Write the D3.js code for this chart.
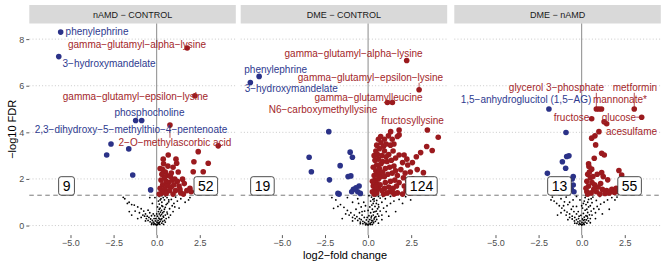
<!DOCTYPE html>
<html>
<head>
<meta charset="utf-8">
<script src="https://cdn.jsdelivr.net/npm/d3@7"></script>
<style>
body { margin: 0; background: #fff; }
text { font-family: "Liberation Sans", Arial, sans-serif; }
</style>
</head>
<body>
<svg width="667" height="268"></svg>
<script>
const width = 667, height = 268;
const svg = d3.select("svg");

// facet titles
const facets = ["nAMD − CONTROL", "DME − CONTROL", "DME − nAMD"];
const xTicks = [-5, -2.5, 0, 2.5];
const yTicks = [0, 2, 4, 6, 8];
const fdrCut = -Math.log10(0.05);

// [log2FC, -log10 FDR]
const down1 = [[-5.57,8.3],[-5.68,7.25],[-1.22,4.51],[-0.87,4.51],[-2.65,3.5],[-2.9,3.03],[-1.62,3.29],[-1.39,2.17],[-0.35,1.53]];
const up1 = [[1.77,7.62],[2.22,5.57],[0.77,4.31],[0.38,2.85],[0.67,3.03],[1.12,2.85],[1.16,2.67],[2.41,3.17],[3.57,3.42],[2.16,2.74],
  [2.99,2.67],[2.12,2.31],[2.7,2.31],[1.5,1.99],[1.93,1.6],[2.0,1.45],[1.75,1.5],[0.2,2.45],[0.35,2.4],[0.5,2.3],[0.3,2.2],[0.6,2.15],
  [0.45,2.05],[0.8,2.1],[0.25,1.95],[0.55,1.9],[0.7,1.85],[0.9,1.95],[1.05,2.0],[1.2,1.9],[0.35,1.75],[0.6,1.7],[0.85,1.65],[1.0,1.75],
  [1.3,1.7],[0.2,1.6],[0.45,1.55],[0.75,1.5],[1.1,1.5],[0.3,1.4],[0.55,1.38],[0.95,1.35],[1.4,1.4],[1.25,2.3],[0.95,2.5],[1.35,1.55],
  [0.15,1.35],[0.65,2.55],[1.6,1.8],[0.4,2.65],[0.85,2.25],[1.55,1.35]];
const ns1 = [[0.0,0.02],[0.05,0.05],[-0.05,0.04],[0.1,0.08],[-0.1,0.07],[0.15,0.12],[-0.15,0.1],[0.02,0.15],[-0.2,0.15],[0.2,0.18],
  [0.08,0.22],[-0.08,0.2],[0.25,0.25],[-0.25,0.22],[-0.35,0.28],[0.3,0.3],[0.12,0.32],[-0.15,0.3],[-0.45,0.35],[0.4,0.36],[0.05,0.4],
  [0.22,0.42],[-0.3,0.42],[-0.55,0.4],[0.5,0.45],[0.15,0.5],[-0.2,0.5],[0.35,0.55],[-0.65,0.5],[-0.4,0.55],[0.6,0.58],[0.1,0.6],
  [0.28,0.65],[-0.75,0.62],[-0.5,0.66],[0.45,0.7],[0.2,0.75],[0.75,0.72],[-0.9,0.72],[0.05,0.8],[0.35,0.82],[0.9,0.85],[-1.1,0.8],
  [0.55,0.9],[0.15,0.92],[-1.3,0.88],[1.0,0.95],[0.3,1.0],[0.7,1.02],[-1.45,0.9],[0.1,1.05],[1.2,1.05],[0.45,1.1],[-1.6,1.0],
  [0.25,1.15],[0.85,1.12],[-1.7,0.95],[1.4,1.15],[0.6,1.2],[0.15,1.25],[1.1,1.22],[-1.94,1.21],[-1.85,1.15],[-1.59,0.6],[-1.45,0.45],
  [-0.9,0.35],[1.65,1.0],[1.85,1.1],[1.93,1.2],[0.95,0.6],[1.3,0.75],[-1.1,0.3],[0.7,0.35],[-0.65,0.2],[0.5,0.15],[0.4,0.05],
  [-0.3,0.05],[0.3,1.28],[0.5,1.27],[-0.4,1.2],[-0.25,0.95],[-0.1,1.2],
  [0.18,0.05],[-0.18,0.04],[0.3,0.1],[-0.28,0.1],[0.08,0.12],[0.35,0.18],[-0.38,0.16],[0.45,0.22],[-0.5,0.22],[0.18,0.28],
  [0.55,0.3],[-0.6,0.3],[0.38,0.4],[0.28,0.48],[0.62,0.5],[0.42,0.6],[0.22,0.58],[0.5,0.78],[0.3,0.85],[0.62,0.95],[0.2,1.1],
  [0.38,1.2],[0.7,1.1],[-0.8,0.45],[-1.0,0.55],[-1.25,0.62],[-0.7,0.4],[0.8,0.45],[1.05,0.8],[0.15,0.7],[-0.05,0.3],[0.0,0.5],
  [-0.12,0.42]];

const down2 = [[-6.32,6.4],[-6.83,6.14],[-2.28,4.03],[-3.42,2.93],[-3.29,2.31],[-2.24,1.96],[-1.62,2.57],[-1.04,3.15],[-0.91,2.93],
  [-1.16,2.1],[-1.0,2.13],[-1.68,1.35],[-0.85,1.56],[-0.52,1.7],[-0.6,1.45],[-0.7,1.62],[-1.75,1.38],[-0.45,1.38],[-0.95,1.45]];
const up2 = [[2.24,7.08],[2.96,5.83],[1.12,5.28],[1.41,5.28],[3.44,4.1],[0.73,3.82],
  [0.35,1.35],[0.5,1.4],[0.4,1.55],[0.6,1.6],[0.3,1.7],[0.5,1.8],[0.7,1.75],[0.4,1.95],[0.6,2.0],[0.35,2.15],[0.55,2.2],[0.75,2.1],
  [0.45,2.35],[0.65,2.45],[0.3,2.5],[0.5,2.6],[0.75,2.65],[0.4,2.8],[0.6,2.85],[0.35,3.0],[0.55,3.05],[0.8,3.0],[0.45,3.2],[0.65,3.3],
  [0.5,3.45],[0.75,3.55],[0.9,3.4],
  [0.9,1.35],[1.1,1.4],[1.3,1.45],[1.5,1.35],[1.7,1.4],[0.95,1.6],[1.2,1.65],[1.45,1.6],[1.65,1.7],[1.0,1.85],[1.3,1.9],[1.55,1.95],
  [1.8,1.85],[0.95,2.1],[1.15,2.2],[1.4,2.25],[1.7,2.15],[1.0,2.45],[1.25,2.5],[1.5,2.55],[1.9,2.4],[1.1,2.75],[1.35,2.8],[1.6,2.9],
  [1.2,3.05],[0.95,3.2],[1.45,3.2],[1.05,3.5],[1.3,3.45],[1.8,3.03],[1.18,3.85],[1.8,3.89],[1.31,4.03],[1.7,3.82],[1.8,4.1],
  [2.0,1.35],[2.2,1.5],[2.4,1.4],[2.1,1.7],[2.5,1.65],[2.3,1.9],[2.05,2.05],[2.6,2.0],[2.57,2.7],[2.3,2.6],[2.09,3.03],[3.05,3.13],
  [3.4,3.39],[3.72,3.22],[4.07,3.79],[3.21,2.27],[2.85,2.4],[2.75,1.55],[2.25,2.85],[2.0,2.7],[2.8,2.95],[3.35,2.0],
  [0.25,1.45],[0.45,1.65],[0.25,1.9],[0.65,2.3],[0.85,2.3],[0.8,1.5],[1.05,2.95],[1.4,1.45],[1.6,2.35],[0.85,2.75],[1.5,3.5],
  [2.45,2.3],[0.6,3.7],[0.95,3.7],[1.4,3.7],[2.15,2.25]];
const ns2 = [[0.0,0.02],[0.05,0.06],[-0.06,0.05],[0.12,0.1],[-0.12,0.09],[0.2,0.14],[-0.2,0.13],[0.03,0.17],[-0.3,0.18],[0.28,0.2],
  [0.1,0.25],[-0.1,0.24],[-0.4,0.25],[0.35,0.28],[-0.5,0.3],[0.18,0.33],[-0.22,0.35],[0.45,0.38],[-0.65,0.38],[0.05,0.42],[0.3,0.45],
  [-0.35,0.45],[-0.8,0.45],[0.55,0.5],[0.15,0.55],[-0.5,0.55],[-1.0,0.55],[0.4,0.6],[0.7,0.62],[-0.2,0.62],[-1.2,0.65],[0.25,0.7],
  [0.55,0.72],[-0.7,0.7],[0.9,0.75],[0.1,0.8],[0.4,0.82],[-1.4,0.78],[-0.4,0.8],[1.1,0.85],[0.6,0.9],[0.3,0.95],[-1.6,0.9],[1.3,0.95],
  [0.8,1.0],[0.15,1.05],[-0.9,1.0],[0.5,1.08],[1.5,1.05],[-1.87,1.1],[-2.0,0.74],[-1.75,0.82],[0.35,1.15],[0.7,1.18],[1.0,1.15],
  [1.8,1.12],[2.18,1.24],[2.47,1.1],[0.2,1.22],[0.45,1.27],[-1.2,1.2],[-0.6,1.15],[1.3,1.25],[2.0,0.95],[1.6,0.6],[-1.5,0.3],[1.2,0.4],
  [-0.9,0.2],[0.8,0.25],[0.6,0.1],[-0.45,0.08],[-2.1,1.2],[-0.25,1.0],[0.05,1.28],[0.25,0.05],
  [0.15,0.04],[-0.15,0.03],[0.32,0.12],[-0.3,0.08],[0.42,0.18],[-0.45,0.15],[0.22,0.22],[-0.6,0.22],[0.5,0.26],[-0.75,0.3],
  [0.38,0.35],[-0.9,0.35],[0.62,0.4],[0.2,0.4],[-0.05,0.35],[0.48,0.62],[0.32,0.58],[-1.1,0.45],[-0.35,0.6],[0.62,0.8],[0.22,0.88],
  [0.48,0.95],[0.35,1.05],[0.6,1.25],[0.28,1.12],[0.85,1.25],[-0.55,0.95],[1.05,0.6],[0.8,0.45],[-1.3,0.5],[0.0,0.65],[-0.15,0.85]];

const down3 = [[-1.9,5.0],[-0.91,3.99],[-0.74,2.99],[-0.87,2.96],[-1.12,2.74],[-0.93,2.46],[-1.99,2.24],[-0.49,2.1],[-0.55,2.0],
  [-0.49,1.74],[-0.6,1.55],[-0.45,1.45],[-0.7,1.6]];
const up3 = [[0.85,5.0],[1.15,5.0],[3.05,5.0],[0.58,4.58],[3.48,4.65],[1.45,4.37],[1.0,5.0],[1.3,4.45],[1.0,4.03],[0.77,3.85],
  [0.58,3.75],[0.81,3.46],[0.73,2.89],[1.16,3.1],[1.31,3.03],[0.42,2.53],[0.58,2.42],[1.16,2.27],[2.16,2.36],[2.32,2.17],[1.51,1.96],
  [0.35,2.2],[0.5,2.05],[0.3,1.9],[0.6,1.85],[0.4,1.7],[0.75,1.75],[0.95,1.65],[1.2,1.55],[1.45,1.5],[1.75,1.55],[2.0,1.6],[0.3,1.45],
  [0.55,1.4],[0.85,1.45],[1.05,1.35],[1.35,1.38],[1.6,1.4],[1.9,1.42],[2.3,1.5],[0.45,2.3],[0.9,2.2],[0.25,1.6],[0.7,1.55],
  [2.15,1.45],[1.1,1.8],[0.4,2.65],[1.25,2.1],[0.65,2.1],[0.35,1.35]];
const ns3 = [[0.0,0.02],[0.06,0.05],[-0.05,0.06],[0.12,0.1],[-0.12,0.1],[0.02,0.14],[0.2,0.15],[-0.22,0.16],[-0.1,0.2],[0.1,0.22],
  [0.28,0.24],[-0.3,0.25],[0.05,0.28],[-0.18,0.3],[0.35,0.32],[-0.4,0.35],[0.15,0.36],[-0.55,0.4],[0.25,0.42],[-0.05,0.44],[0.45,0.46],
  [-0.3,0.5],[-0.7,0.5],[0.1,0.52],[0.35,0.56],[-0.85,0.58],[-0.45,0.6],[0.55,0.62],[0.2,0.66],[-1.0,0.65],[-0.6,0.7],[0.7,0.72],
  [0.05,0.75],[-1.15,0.75],[0.4,0.8],[-0.3,0.82],[0.9,0.82],[-1.3,0.85],[-0.8,0.9],[0.25,0.9],[1.1,0.92],[0.6,0.98],[-1.45,0.95],
  [-1.0,1.02],[0.15,1.05],[1.3,1.0],[0.85,1.08],[-1.6,1.05],[0.4,1.12],[-0.5,1.1],[1.5,1.1],[-1.78,1.1],[-1.2,1.15],[0.2,1.2],
  [1.93,1.1],[1.75,1.2],[0.65,1.22],[-0.3,1.25],[1.05,1.25],[-1.7,1.22],[1.6,0.7],[-1.4,0.45],[1.2,0.5],[0.8,0.3],[-0.8,0.25],
  [0.5,0.12],[-0.4,0.1],[2.05,1.22],[-0.9,1.22],
  [0.15,0.04],[-0.16,0.04],[0.3,0.1],[-0.28,0.09],[0.4,0.2],[-0.42,0.2],[0.18,0.25],[-0.55,0.28],[0.5,0.3],[-0.7,0.35],
  [0.32,0.4],[-0.15,0.4],[0.6,0.45],[-0.9,0.45],[0.3,0.7],[0.5,0.85],[-0.5,0.82],[0.1,0.95],[0.35,1.0],[-0.7,1.0],[0.55,1.15],
  [-1.05,0.85],[0.8,0.55],[-1.2,0.55],[1.0,0.7],[-0.2,0.6],[0.0,0.85],[0.25,1.28],[-0.1,1.1]];

// labels: name, point (x,y), label centre (lx,ly), direction, leader segment
const labels1 = [
  {name: "phenylephrine", x: -5.57, y: 8.3, lx: -3.46, ly: 8.32, dir: "down", seg: false},
  {name: "3−hydroxymandelate", x: -5.68, y: 7.25, lx: -2.76, ly: 6.95, dir: "down", seg: false},
  {name: "gamma−glutamyl−alpha−lysine", x: 1.77, y: 7.62, lx: -1.14, ly: 7.76, dir: "up", seg: false},
  {name: "gamma−glutamyl−epsilon−lysine", x: 2.22, y: 5.57, lx: -1.23, ly: 5.53, dir: "up", seg: false},
  {name: "phosphocholine", x: -1.22, y: 4.51, lx: -0.42, ly: 4.84, dir: "down", seg: false},
  {name: "2,3−dihydroxy−5−methylthio−4−pentenoate", x: -2.65, y: 3.5, lx: -1.49, ly: 4.11, dir: "down", seg: false},
  {name: "2−O−methylascorbic acid", x: 0.77, y: 4.31, lx: 1.06, ly: 3.55, dir: "up", seg: true}
];
const labels2 = [
  {name: "gamma−glutamyl−alpha−lysine", x: 2.24, y: 7.08, lx: -0.84, ly: 7.38, dir: "up", seg: false},
  {name: "phenylephrine", x: -6.32, y: 6.4, lx: -5.36, ly: 6.69, dir: "down", seg: false},
  {name: "3−hydroxymandelate", x: -6.83, y: 6.14, lx: -4.46, ly: 5.87, dir: "down", seg: false},
  {name: "gamma−glutamyl−epsilon−lysine", x: 2.96, y: 5.83, lx: 0.14, ly: 6.34, dir: "up", seg: true},
  {name: "gamma−glutamylleucine", x: 1.12, y: 5.28, lx: 0.03, ly: 5.5, dir: "up", seg: false},
  {name: "N6−carboxymethyllysine", x: 0.73, y: 3.82, lx: -2.61, ly: 4.97, dir: "up", seg: false},
  {name: "fructosyllysine", x: 3.44, y: 4.1, lx: 2.58, ly: 4.49, dir: "up", seg: false}
];
const labels3 = [
  {name: "glycerol 3−phosphate", x: 0.85, y: 5.0, lx: -1.46, ly: 5.91, dir: "up", seg: true},
  {name: "metformin", x: 3.05, y: 5.0, lx: 3.09, ly: 5.91, dir: "up", seg: true},
  {name: "1,5−anhydroglucitol (1,5−AG)", x: -1.9, y: 5.0, lx: -3.23, ly: 5.4, dir: "down", seg: false},
  {name: "mannonate*", x: 1.15, y: 5.0, lx: 2.22, ly: 5.4, dir: "up", seg: false},
  {name: "fructose", x: 0.58, y: 4.58, lx: -0.59, ly: 4.62, dir: "up", seg: false},
  {name: "glucose", x: 3.48, y: 4.65, lx: 2.16, ly: 4.62, dir: "up", seg: true},
  {name: "acesulfame", x: 1.45, y: 4.37, lx: 2.89, ly: 4.02, dir: "up", seg: false}
];

// number of down / up metabolites and where the boxes sit
const downCounts = [9, 19, 13];
const upCounts = [52, 124, 55];
const downCountX = [-5.23, -6.13, -1.29];
const upCountX = [2.85, 3.1, 2.78];
const countY = 1.7;

const colors = {down: "#2b3288", up: "#9b1a1e"};
const labelColors = {down: "#2e3a8f", up: "#a3262a"};

const panelData = [
  {down: down1, up: up1, ns: ns1, labels: labels1},
  {down: down2, up: up2, ns: ns2, labels: labels2},
  {down: down3, up: up3, ns: ns3, labels: labels3}
];

const panelW = 206.5, panelTop = 23.5, panelBottom = 235.1;
const panelX = [29.3, 240.7, 454.3];

const xScale = d3.scaleLinear().domain([-7.39, 4.59]).range([0, panelW]);
const yScale = d3.scaleLinear().domain([-0.41, 8.67]).range([panelBottom, panelTop]);

// y axis (only left panel)
const yAxis = svg.append("g")
    .attr("transform", `translate(${panelX[0]},0)`)
    .call(d3.axisLeft(yScale).tickValues(yTicks).tickSize(3).tickPadding(2).tickFormat(d3.format("d")));
yAxis.select(".domain").remove();
yAxis.selectAll(".tick line").attr("stroke", "#333").attr("stroke-width", 0.8);
yAxis.selectAll(".tick text").attr("fill", "#4d4d4d").style("font-size", "9px")
    .style("font-family", "'Liberation Sans', Arial, sans-serif");

svg.append("text")
    .attr("transform", `translate(12,${(panelTop + panelBottom) / 2}) rotate(-90)`)
    .attr("text-anchor", "middle")
    .attr("dominant-baseline", "central")
    .style("font-size", "11px")
    .text("−log10 FDR");

svg.append("text")
    .attr("x", (panelX[0] + panelX[2] + panelW) / 2)
    .attr("y", 259)
    .attr("text-anchor", "middle")
    .style("font-size", "11px")
    .text("log2−fold change");

panelData.forEach((pd, i) => {
    const g = svg.append("g").attr("transform", `translate(${panelX[i]},0)`);

    // strip
    g.append("rect")
        .attr("x", 0).attr("y", 5)
        .attr("width", panelW).attr("height", panelTop - 5)
        .attr("fill", "#d9d9d9");
    g.append("text")
        .attr("x", panelW / 2).attr("y", 14.5)
        .attr("text-anchor", "middle")
        .attr("dominant-baseline", "central")
        .attr("fill", "#1a1a1a")
        .style("font-size", "9px")
        .text(facets[i]);

    // dotted grid
    g.selectAll(".grid")
        .data(yTicks)
        .enter().append("line")
        .attr("x1", 0).attr("x2", panelW)
        .attr("y1", d => yScale(d)).attr("y2", d => yScale(d))
        .attr("stroke", "#c4c4c4")
        .attr("stroke-width", 0.9)
        .attr("stroke-dasharray", "1,2.2");

    // x axis
    const xAxis = g.append("g")
        .attr("transform", `translate(0,${panelBottom})`)
        .call(d3.axisBottom(xScale).tickValues(xTicks).tickSize(3).tickPadding(2)
            .tickFormat(d => d3.format(".1f")(d).replace("-", "−")));
    xAxis.select(".domain").remove();
    xAxis.selectAll(".tick line").attr("stroke", "#333").attr("stroke-width", 0.8);
    xAxis.selectAll(".tick text").attr("fill", "#4d4d4d").style("font-size", "9px")
        .style("font-family", "'Liberation Sans', Arial, sans-serif");

    // zero line
    g.append("line")
        .attr("x1", xScale(0)).attr("x2", xScale(0))
        .attr("y1", panelTop).attr("y2", panelBottom)
        .attr("stroke", "#8a8a8a").attr("stroke-width", 1);

    // FDR threshold
    g.append("line")
        .attr("x1", 0).attr("x2", panelW)
        .attr("y1", yScale(fdrCut)).attr("y2", yScale(fdrCut))
        .attr("stroke", "#6b6b6b").attr("stroke-width", 0.9)
        .attr("stroke-dasharray", "4.5,3.5");

    // non significant
    g.selectAll(".ns")
        .data(pd.ns)
        .enter().append("circle")
        .attr("cx", d => xScale(d[0]))
        .attr("cy", d => yScale(d[1]))
        .attr("r", 0.9)
        .attr("fill", "#000");

    ["down", "up"].forEach(k => {
        g.selectAll(`.pt-${k}`)
            .data(pd[k])
            .enter().append("circle")
            .attr("cx", d => xScale(d[0]))
            .attr("cy", d => yScale(d[1]))
            .attr("r", 2.8)
            .attr("fill", colors[k]);
    });

    // labels with leader segments
    pd.labels.forEach(l => {
        const t = g.append("text")
            .attr("x", xScale(l.lx)).attr("y", yScale(l.ly))
            .attr("text-anchor", "middle")
            .attr("dominant-baseline", "central")
            .attr("fill", labelColors[l.dir])
            .style("font-size", "10px")
            .text(l.name);
        if (l.seg) {
            const w = t.node().getComputedTextLength();
            const cx = xScale(l.lx), cy = yScale(l.ly);
            const px = xScale(l.x), py = yScale(l.y);
            const sx = Math.max(cx - w / 2, Math.min(cx + w / 2, px));
            const sy = Math.max(cy - 5, Math.min(cy + 5, py));
            g.insert("line", "text")
                .attr("x1", sx).attr("y1", sy)
                .attr("x2", px).attr("y2", py)
                .attr("stroke", labelColors[l.dir]).attr("stroke-width", 0.8);
        }
    });

    // count boxes
    [[downCountX[i], downCounts[i]], [upCountX[i], upCounts[i]]].forEach(([cxv, n]) => {
        const bx = g.append("g").attr("transform", `translate(${xScale(cxv)},${yScale(countY)})`);
        const rect = bx.append("rect").attr("fill", "#fff").attr("stroke", "#222").attr("stroke-width", 0.8);
        const tt = bx.append("text")
            .attr("text-anchor", "middle")
            .attr("dominant-baseline", "central")
            .attr("fill", "#000")
            .style("font-size", "14px")
            .text(n);
        const w = tt.node().getComputedTextLength() + 8;
        rect.attr("x", -w / 2).attr("y", -9.25).attr("width", w).attr("height", 18.5).attr("rx", 2.5);
    });
});
</script>
</body>
</html>
